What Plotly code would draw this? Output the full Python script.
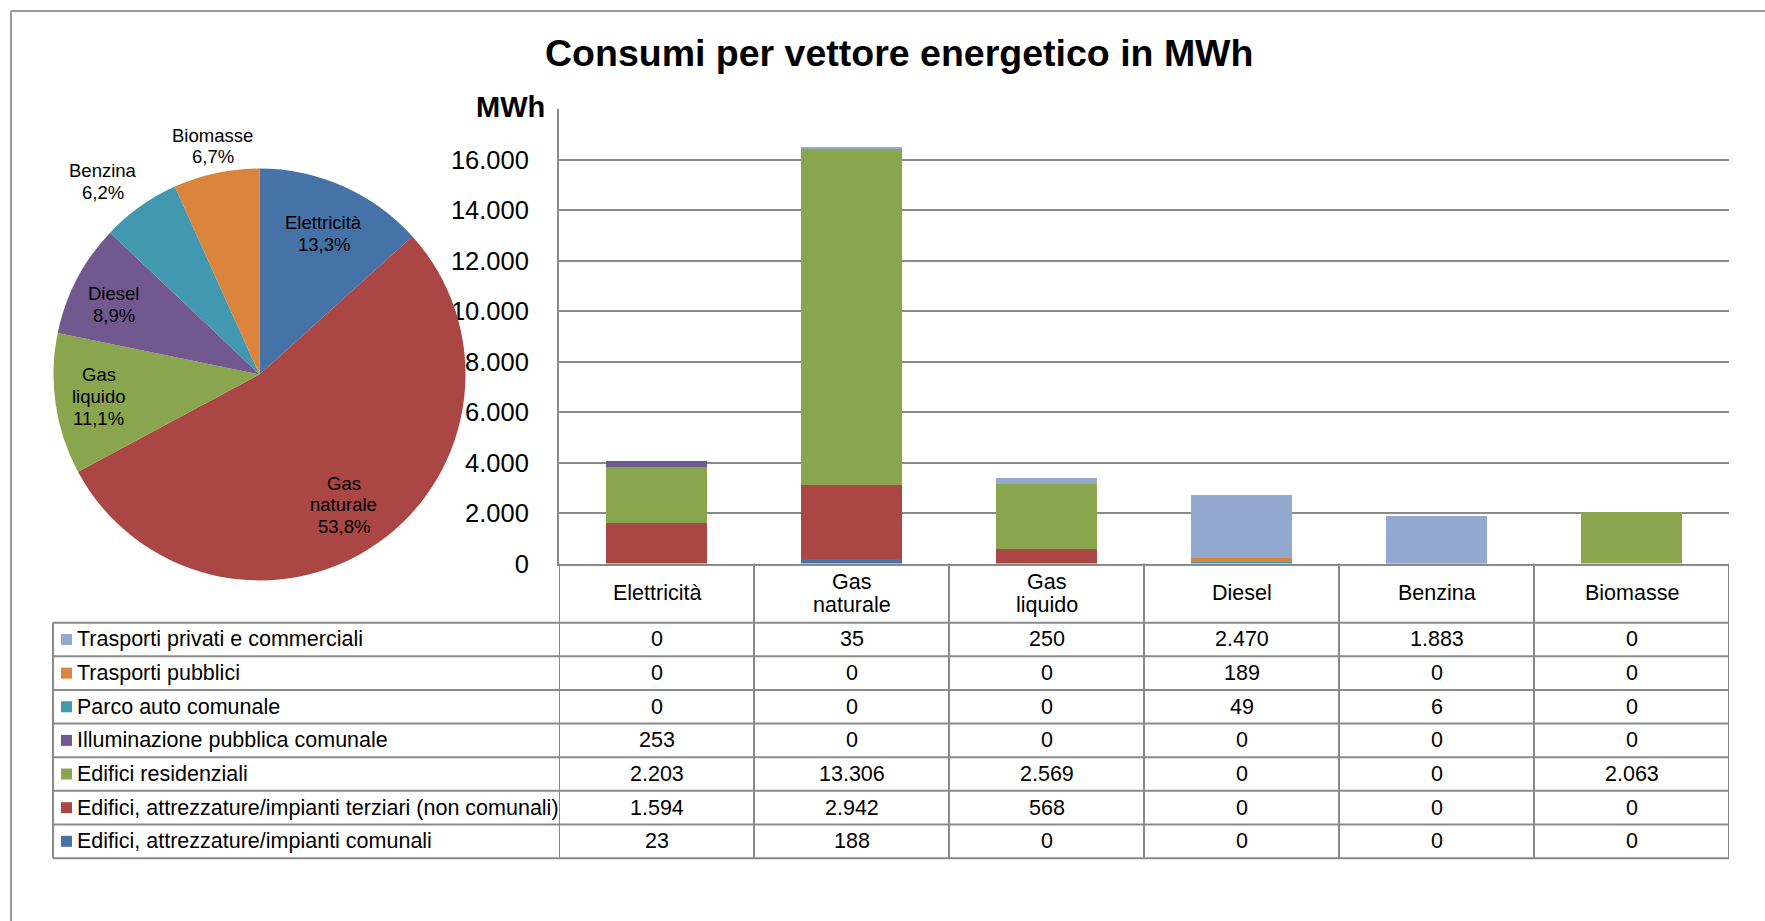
import math
import plotly.graph_objects as go

# ---------------- DATA ----------------
categories = ["Elettricità", "Gas naturale", "Gas liquido", "Diesel", "Benzina", "Biomasse"]

trasporti_privati = [0, 35, 250, 2470, 1883, 0]
trasporti_pubblici = [0, 0, 0, 189, 0, 0]
parco_auto = [0, 0, 0, 49, 6, 0]
illuminazione = [253, 0, 0, 0, 0, 0]
edifici_residenziali = [2203, 13306, 2569, 0, 0, 2063]
edifici_terziari = [1594, 2942, 568, 0, 0, 0]
edifici_comunali = [23, 188, 0, 0, 0, 0]

series_names = [
    "Trasporti privati e commerciali",
    "Trasporti pubblici",
    "Parco auto comunale",
    "Illuminazione pubblica comunale",
    "Edifici residenziali",
    "Edifici, attrezzature/impianti terziari (non comunali)",
    "Edifici, attrezzature/impianti comunali",
]
series_values = [trasporti_privati, trasporti_pubblici, parco_auto, illuminazione,
                 edifici_residenziali, edifici_terziari, edifici_comunali]

y_tick_values = [0, 2000, 4000, 6000, 8000, 10000, 12000, 14000, 16000, 18000]

# ---------------- STYLE ----------------
series_colors = ["#93A9CF", "#DB843D", "#4198AF", "#71588F", "#89A54E", "#AA4643", "#4572A7"]
pie_colors = ["#4572A7", "#AA4643", "#89A54E", "#71588F", "#4198AF", "#DB843D"]
# label placement: radius (fraction of pie radius) and angular nudge (deg)
pie_label_radius = [0.752, 0.753, 0.789, 0.785, 1.203, 1.130]
pie_label_nudge = [0.5, 2.3, 0.4, -1.9, -3.7, 0.6]

FONT = "Liberation Sans, Arial, sans-serif"
W, H = 1765, 921          # design grid (reference pixels)
H_PAGE = 936              # page height that maps onto the 921 px photo
GRID = "#8a8a8a"

PLOT_L, PLOT_R, PLOT_T, PLOT_B = 559, 1729, 109, 563
TABLE_L = 53
ROW_TOP = 622
ROW_H = 33.6
TABLE_B = ROW_TOP + ROW_H * len(series_names)
PIE_CX, PIE_CY, PIE_R = 259.5, 374, 206
PIE_FONT, PIE_LINE = 18.5, 21.8
TAB_FONT, TAB_LINE = 21.5, 23


def fx(px):
    return px / W


def fy(py):
    return 1 - py / H


def fmt_int(v):
    return f"{v:,}".replace(",", ".")


def multiline(lines, x, cy, xref, size, spacing, anns):
    n = len(lines)
    for k, line in enumerate(lines):
        yy = cy + (k - (n - 1) / 2) * spacing
        anns.append(dict(
            x=x, y=fy(yy), xref=xref, yref="paper", text=line, showarrow=False,
            xanchor="center", yanchor="middle",
            font=dict(family=FONT, size=size, color="#000000"),
        ))


fig = go.Figure()

# stacked bars (bottom series first)
for name, vals, col in reversed(list(zip(series_names, series_values, series_colors))):
    fig.add_trace(go.Bar(
        x=list(range(len(categories))), y=vals, name=name,
        marker=dict(color=col, line=dict(width=0)),
        width=0.515, showlegend=False,
    ))

# pie of totals per vector
totals = [sum(s[i] for s in series_values) for i in range(len(categories))]
fig.add_trace(go.Pie(
    labels=categories, values=totals, sort=False, direction="clockwise", rotation=0,
    marker=dict(colors=pie_colors, line=dict(width=0)),
    textinfo="none", hoverinfo="label+percent", showlegend=False,
    domain=dict(x=[fx(PIE_CX - PIE_R), fx(PIE_CX + PIE_R)],
                y=[fy(PIE_CY + PIE_R), fy(PIE_CY - PIE_R)]),
))

annotations = []
shapes = []

# pie labels
total = sum(totals)
cum = 0
for i, (cat, v) in enumerate(zip(categories, totals)):
    frac = v / total
    mid = (cum + frac / 2) * 2 * math.pi + math.radians(pie_label_nudge[i])
    cum += frac
    r = PIE_R * pie_label_radius[i]
    px = PIE_CX + r * math.sin(mid)
    py = PIE_CY - r * math.cos(mid)
    pct = f"{frac * 100:.1f}".replace(".", ",") + "%"
    multiline(cat.split(" ") + [pct], fx(px), py, "paper", PIE_FONT, PIE_LINE, annotations)

# title and axis title
annotations.append(dict(
    x=fx(899), y=fy(53), xref="paper", yref="paper", text="<b>Consumi per vettore energetico in MWh</b>",
    showarrow=False, xanchor="center", yanchor="middle",
    font=dict(family=FONT, size=37.5, color="#000000"),
))
annotations.append(dict(
    x=fx(547), y=fy(107), xref="paper", yref="paper", text="<b>MWh</b>",
    showarrow=False, xanchor="right", yanchor="middle",
    font=dict(family=FONT, size=29, color="#000000"),
))

# table header (category names)
for i, cat in enumerate(categories):
    multiline(cat.split(" "), i, (PLOT_B + ROW_TOP) / 2, "x", TAB_FONT, TAB_LINE, annotations)

# table body
for r, (name, vals, col) in enumerate(zip(series_names, series_values, series_colors)):
    cy = ROW_TOP + ROW_H * (r + 0.5)
    shapes.append(dict(type="rect", xref="paper", yref="paper",
                       x0=fx(61), x1=fx(72), y0=fy(cy - 5.5), y1=fy(cy + 5.5),
                       fillcolor=col, line=dict(width=0)))
    annotations.append(dict(
        x=fx(75), y=fy(cy), xref="paper", yref="paper", text=name, showarrow=False,
        xanchor="left", yanchor="middle",
        font=dict(family=FONT, size=TAB_FONT, color="#000000"),
    ))
    for i, v in enumerate(vals):
        annotations.append(dict(
            x=i, y=fy(cy), xref="x", yref="paper", text=fmt_int(v), showarrow=False,
            xanchor="center", yanchor="middle",
            font=dict(family=FONT, size=TAB_FONT, color="#000000"),
        ))

# table grid lines
for r in range(len(series_names) + 1):
    yy = ROW_TOP + ROW_H * r
    shapes.append(dict(type="line", xref="paper", yref="paper",
                       x0=fx(TABLE_L), x1=fx(PLOT_R), y0=fy(yy), y1=fy(yy),
                       line=dict(color=GRID, width=2)))
shapes.append(dict(type="line", xref="paper", yref="paper",
                   x0=fx(TABLE_L), x1=fx(TABLE_L), y0=fy(ROW_TOP), y1=fy(TABLE_B),
                   line=dict(color=GRID, width=2)))
for k in range(len(categories) + 1):
    shapes.append(dict(type="line", xref="x", yref="paper",
                       x0=k - 0.5, x1=k - 0.5, y0=fy(PLOT_B), y1=fy(TABLE_B),
                       line=dict(color=GRID, width=2)))

# outer chart border (top and left)
shapes.append(dict(type="line", xref="paper", yref="paper",
                   x0=fx(11), x1=1, y0=fy(11), y1=fy(11), line=dict(color="#9a9a9a", width=2)))
shapes.append(dict(type="line", xref="paper", yref="paper",
                   x0=fx(11), x1=fx(11), y0=fy(11), y1=0, line=dict(color="#9a9a9a", width=2)))

fig.update_layout(
    width=W, height=H_PAGE,
    margin=dict(l=0, r=0, t=0, b=0),
    paper_bgcolor="white", plot_bgcolor="white",
    barmode="stack",
    separators=",.",
    font=dict(family=FONT, color="#000000"),
    xaxis=dict(domain=[fx(PLOT_L), fx(PLOT_R)], range=[-0.5, len(categories) - 0.5],
               showticklabels=False, showgrid=False, zeroline=False, ticks="",
               showline=True, linecolor=GRID, linewidth=2),
    yaxis=dict(domain=[fy(PLOT_B), fy(PLOT_T)], range=[0, 18000],
               tickvals=y_tick_values, ticktext=[fmt_int(v) for v in y_tick_values[:-1]] + [""],
               showgrid=True, gridcolor=GRID, gridwidth=2, zeroline=False,
               showline=True, linecolor=GRID, linewidth=2, ticks="",
               ticklabelstandoff=23,
               tickfont=dict(family=FONT, size=25.5, color="#000000")),
    annotations=annotations,
    shapes=shapes,
)

fig.write_html("out.html", include_plotlyjs=True, config={"displayModeBar": False},
               post_script="document.body.style.margin='0';document.body.style.overflow='hidden';")
